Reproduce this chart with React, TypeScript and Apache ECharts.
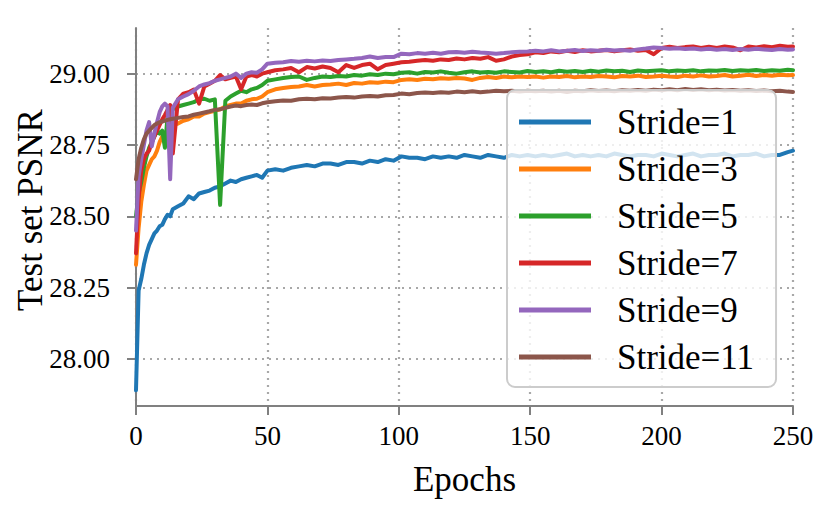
import React, { useEffect, useRef } from 'react';
import * as echarts from 'echarts';

const EPOCHS = [
  0, 1, 2, 3, 4, 5, 6, 7, 8, 9, 10, 11, 12, 13, 14,
  16, 18, 20, 22, 24, 26, 28, 30, 32, 34, 36, 38, 40, 42, 44, 46, 48, 50,
  53, 56, 59, 62, 65, 68, 71, 74, 77, 80, 83,
  86, 89, 92, 95, 98, 101, 104, 107, 110, 113, 116,
  119, 122, 125, 128, 131, 134, 137, 140, 143, 146, 149,
  152, 155, 158, 161, 164, 167, 170, 173, 176, 179, 182,
  185, 188, 191, 194, 197, 200, 203, 206, 209, 212, 215,
  218, 221, 224, 227, 230, 233, 236, 239, 242, 245, 248,
  250,
];

const STRIDE_1 = [
  27.89, 28.24, 28.28, 28.33, 28.37, 28.4, 28.42, 28.44, 28.45, 28.465, 28.47, 28.49, 28.505, 28.5, 28.525,
  28.535, 28.545, 28.57, 28.56, 28.58, 28.585, 28.59, 28.6, 28.605, 28.615, 28.625, 28.62, 28.63, 28.635, 28.64, 28.645, 28.635, 28.66,
  28.665, 28.66, 28.67, 28.675, 28.68, 28.675, 28.685, 28.685, 28.68, 28.69, 28.69,
  28.685, 28.695, 28.69, 28.7, 28.695, 28.71, 28.705, 28.705, 28.7, 28.71, 28.705,
  28.71, 28.705, 28.715, 28.71, 28.705, 28.715, 28.71, 28.705, 28.715, 28.71, 28.715,
  28.71, 28.715, 28.71, 28.715, 28.72, 28.71, 28.715, 28.71, 28.715, 28.71, 28.72,
  28.715, 28.71, 28.715, 28.715, 28.71, 28.72, 28.715, 28.71, 28.715, 28.72, 28.71,
  28.715, 28.715, 28.72, 28.71, 28.715, 28.715, 28.72, 28.71, 28.715, 28.715, 28.725,
  28.73,
];

const STRIDE_3 = [
  28.33, 28.46, 28.55, 28.61, 28.66, 28.68, 28.7, 28.71, 28.73, 28.76, 28.78, 28.775, 28.8, 28.81, 28.82,
  28.825, 28.835, 28.84, 28.85, 28.85, 28.86, 28.865, 28.87, 28.875, 28.885, 28.89, 28.895, 28.895, 28.905, 28.91, 28.912, 28.92, 28.935,
  28.945, 28.95, 28.953, 28.955, 28.96, 28.955, 28.96, 28.962, 28.965, 28.96, 28.967,
  28.965, 28.97, 28.968, 28.972, 28.97, 28.978, 28.98, 28.978, 28.982, 28.98, 28.984,
  28.982, 28.985, 28.983, 28.978, 28.985, 28.988, 28.985, 28.99, 28.987, 28.99, 28.988,
  28.99, 28.986, 28.99, 28.988, 28.992, 28.987, 28.99, 28.988, 28.992, 28.99, 28.987,
  28.992, 28.99, 28.993, 28.988, 28.99, 28.993, 28.99, 28.988, 28.993, 28.99, 28.994,
  28.99, 28.992, 28.995, 28.99, 28.993, 28.996, 28.992, 28.995, 28.993, 28.996, 28.994,
  28.995,
];

const STRIDE_5 = [
  28.5, 28.58, 28.62, 28.67, 28.71, 28.74, 28.76, 28.78, 28.8, 28.79, 28.8, 28.74, 28.85, 28.87, 28.875,
  28.885, 28.89, 28.895, 28.9, 28.91, 28.912, 28.905, 28.91, 28.54, 28.905, 28.92, 28.93, 28.94, 28.935, 28.945, 28.95, 28.96, 28.975,
  28.98, 28.985, 28.988, 28.99, 28.978, 28.985, 28.99, 28.988, 28.992, 28.99, 28.995,
  28.993, 28.998, 28.995, 29.0, 28.998, 29.003, 29.005, 29.0, 29.006, 29.004, 29.008,
  29.003, 29.0, 29.005, 29.008, 29.004, 29.006, 29.003, 29.008, 29.006, 29.004, 29.009,
  29.006, 29.008, 29.005, 29.01, 29.007, 29.009, 29.006, 29.01, 29.007, 29.011, 29.008,
  29.01, 29.006, 29.011, 29.008, 29.01, 29.012, 29.008, 29.011, 29.009, 29.012, 29.008,
  29.011, 29.01, 29.013, 29.009, 29.012, 29.01, 29.013, 29.009, 29.012, 29.01, 29.014,
  29.012,
];

const STRIDE_7 = [
  28.37, 28.56, 28.66, 28.7, 28.72, 28.73, 28.76, 28.78, 28.8, 28.82, 28.84, 28.855, 28.873, 28.89, 28.72,
  28.91, 28.93, 28.935, 28.944, 28.895, 28.955, 28.965, 28.975, 28.995, 28.98, 28.985, 28.99, 28.945, 28.99, 28.995, 28.99, 29.0, 29.005,
  29.012, 29.015, 29.02, 29.005, 29.023, 29.018, 29.025, 29.02, 29.005, 29.03, 29.02,
  29.03, 29.035, 29.015, 29.03, 29.035, 29.04, 29.042, 29.045, 29.048, 29.045, 29.05,
  29.048, 29.053, 29.05, 29.055, 29.052, 29.058, 29.045, 29.05, 29.06, 29.065, 29.068,
  29.075, 29.072, 29.078, 29.075, 29.08, 29.076, 29.082, 29.078, 29.08, 29.083, 29.078,
  29.082, 29.085, 29.08, 29.083, 29.068, 29.09, 29.094, 29.09, 29.093, 29.095, 29.09,
  29.094, 29.09, 29.095, 29.092, 29.082, 29.095, 29.092, 29.096, 29.093, 29.098, 29.094,
  29.095,
];

const STRIDE_9 = [
  28.45, 28.64, 28.7, 28.75, 28.8, 28.83, 28.745, 28.79, 28.83, 28.865, 28.885, 28.895, 28.885, 28.63, 28.88,
  28.91, 28.92, 28.928, 28.94, 28.955, 28.962, 28.967, 28.975, 28.98, 28.985, 28.99, 29.0, 28.985, 29.0, 29.005, 29.003, 29.015, 29.035,
  29.038, 29.04, 29.044, 29.042, 29.045, 29.043, 29.046, 29.044, 29.048, 29.05, 29.052,
  29.055, 29.06, 29.055, 29.058, 29.058, 29.07, 29.068, 29.072, 29.07, 29.073, 29.07,
  29.075, 29.076, 29.073, 29.077, 29.074, 29.072, 29.07, 29.072, 29.075, 29.077, 29.078,
  29.08, 29.078, 29.082, 29.078, 29.08, 29.083, 29.079, 29.082, 29.08, 29.084, 29.081,
  29.083, 29.08, 29.085, 29.088, 29.092, 29.09, 29.087, 29.089, 29.086, 29.088, 29.085,
  29.087, 29.084, 29.086, 29.083, 29.086, 29.084, 29.087, 29.085, 29.083, 29.086, 29.084,
  29.085,
];

const STRIDE_11 = [
  28.63, 28.7, 28.74, 28.77, 28.79, 28.8, 28.81, 28.82, 28.825, 28.83, 28.832, 28.835, 28.838, 28.84, 28.842,
  28.845, 28.848, 28.85, 28.856, 28.86, 28.864, 28.868, 28.873, 28.875, 28.88, 28.885, 28.888, 28.886, 28.89, 28.892, 28.89, 28.896, 28.9,
  28.903, 28.906, 28.905, 28.91, 28.912, 28.91, 28.914, 28.913, 28.916, 28.918, 28.916,
  28.92, 28.922, 28.92, 28.924, 28.925, 28.93, 28.928, 28.932, 28.934, 28.932, 28.935,
  28.933, 28.937, 28.935, 28.938, 28.935, 28.937, 28.94, 28.938, 28.94, 28.937, 28.94,
  28.938, 28.94, 28.937, 28.94, 28.936, 28.94, 28.938, 28.942, 28.939, 28.941, 28.938,
  28.942, 28.94, 28.943, 28.94, 28.944, 28.942, 28.945, 28.942, 28.946, 28.943, 28.945,
  28.942, 28.944, 28.941, 28.943, 28.94, 28.942, 28.939, 28.941, 28.938, 28.94, 28.937,
  28.936,
];

const SERIES_NAMES = ['Stride=1', 'Stride=3', 'Stride=5', 'Stride=7', 'Stride=9', 'Stride=11'];
const SERIES_VALUES = [STRIDE_1, STRIDE_3, STRIDE_5, STRIDE_7, STRIDE_9, STRIDE_11];
const COLORS = ['#1f77b4', '#ff7f0e', '#2ca02c', '#d62728', '#9467bd', '#8c564b'];

const Y_TICKS = [28.0, 28.25, 28.5, 28.75, 29.0];
const Y_MIN = 27.835;
const Y_MAX = 29.16;
const X_MIN = 0;
const X_MAX = 250;
const X_STEP = 50;

const FONT = '"Liberation Serif", "Times New Roman", serif';
const SPINE = '#808080';
const GRID = '#a8a8a8';

export default function App() {
  const ref = useRef<HTMLDivElement>(null);

  useEffect(() => {
    if (!ref.current) return;
    const chart = echarts.init(ref.current, null, { renderer: 'svg' });
    const series = SERIES_NAMES.map((name, i) => ({
      name,
      type: 'line',
      data: EPOCHS.map((e, j) => [e, SERIES_VALUES[i][j]]),
      showSymbol: false,
      symbol: 'none',
      color: COLORS[i],
      lineStyle: { width: 4, color: COLORS[i], cap: 'round', join: 'round' },
      emphasis: { disabled: true },
      silent: true,
    }));
    chart.setOption({
      animation: false,
      backgroundColor: '#ffffff',
      grid: { left: 136, right: 38, top: 28, bottom: 108, outerBoundsMode: 'none', containLabel: false },
      xAxis: {
        type: 'value',
        min: X_MIN,
        max: X_MAX,
        interval: X_STEP,
        name: 'Epochs',
        nameLocation: 'middle',
        nameGap: 56,
        nameTextStyle: { fontFamily: FONT, fontSize: 35, color: '#000' },
        axisLine: { show: true, lineStyle: { color: SPINE, width: 2 } },
        axisTick: { show: true, length: 9, lineStyle: { color: SPINE, width: 2 } },
        axisLabel: { fontFamily: FONT, fontSize: 27, color: '#000', margin: 16 },
        splitLine: { show: true, lineStyle: { color: GRID, width: 2.2, type: [2, 5] } },
      },
      yAxis: {
        type: 'value',
        min: Y_MIN,
        max: Y_MAX,
        name: 'Test set PSNR',
        nameLocation: 'middle',
        nameGap: 88,
        nameMoveOverlap: false,
        nameTextStyle: { fontFamily: FONT, fontSize: 35, color: '#000', padding: [0, 0, 0, 14] },
        axisLine: { show: true, lineStyle: { color: SPINE, width: 2 } },
        axisTick: { show: true, length: 9, customValues: Y_TICKS, lineStyle: { color: SPINE, width: 2 } },
        axisLabel: {
          fontFamily: FONT,
          fontSize: 27,
          color: '#000',
          margin: 26,
          customValues: Y_TICKS,
          formatter: (v: number) => v.toFixed(2),
        },
        splitLine: { show: true, lineStyle: { color: GRID, width: 2.2, type: [2, 5] } },
      },
      legend: {
        orient: 'vertical',
        left: 507,
        top: 90,
        icon: 'rect',
        itemWidth: 72,
        itemHeight: 5,
        itemGap: 7,
        padding: [12, 22, 10, 12],
        backgroundColor: 'rgba(255,255,255,0.8)',
        borderColor: '#cccccc',
        borderWidth: 2,
        borderRadius: 8,
        textStyle: { fontFamily: FONT, fontSize: 35, color: '#000', lineHeight: 40, padding: [0, 0, 0, 21] },
        data: SERIES_NAMES,
        selectedMode: false,
      },
      series,
    });
    return () => chart.dispose();
  }, []);

  return (
    <div
      ref={ref}
      style={{ position: 'absolute', left: 0, top: 0, width: 831, height: 514 }}
    />
  );
}
